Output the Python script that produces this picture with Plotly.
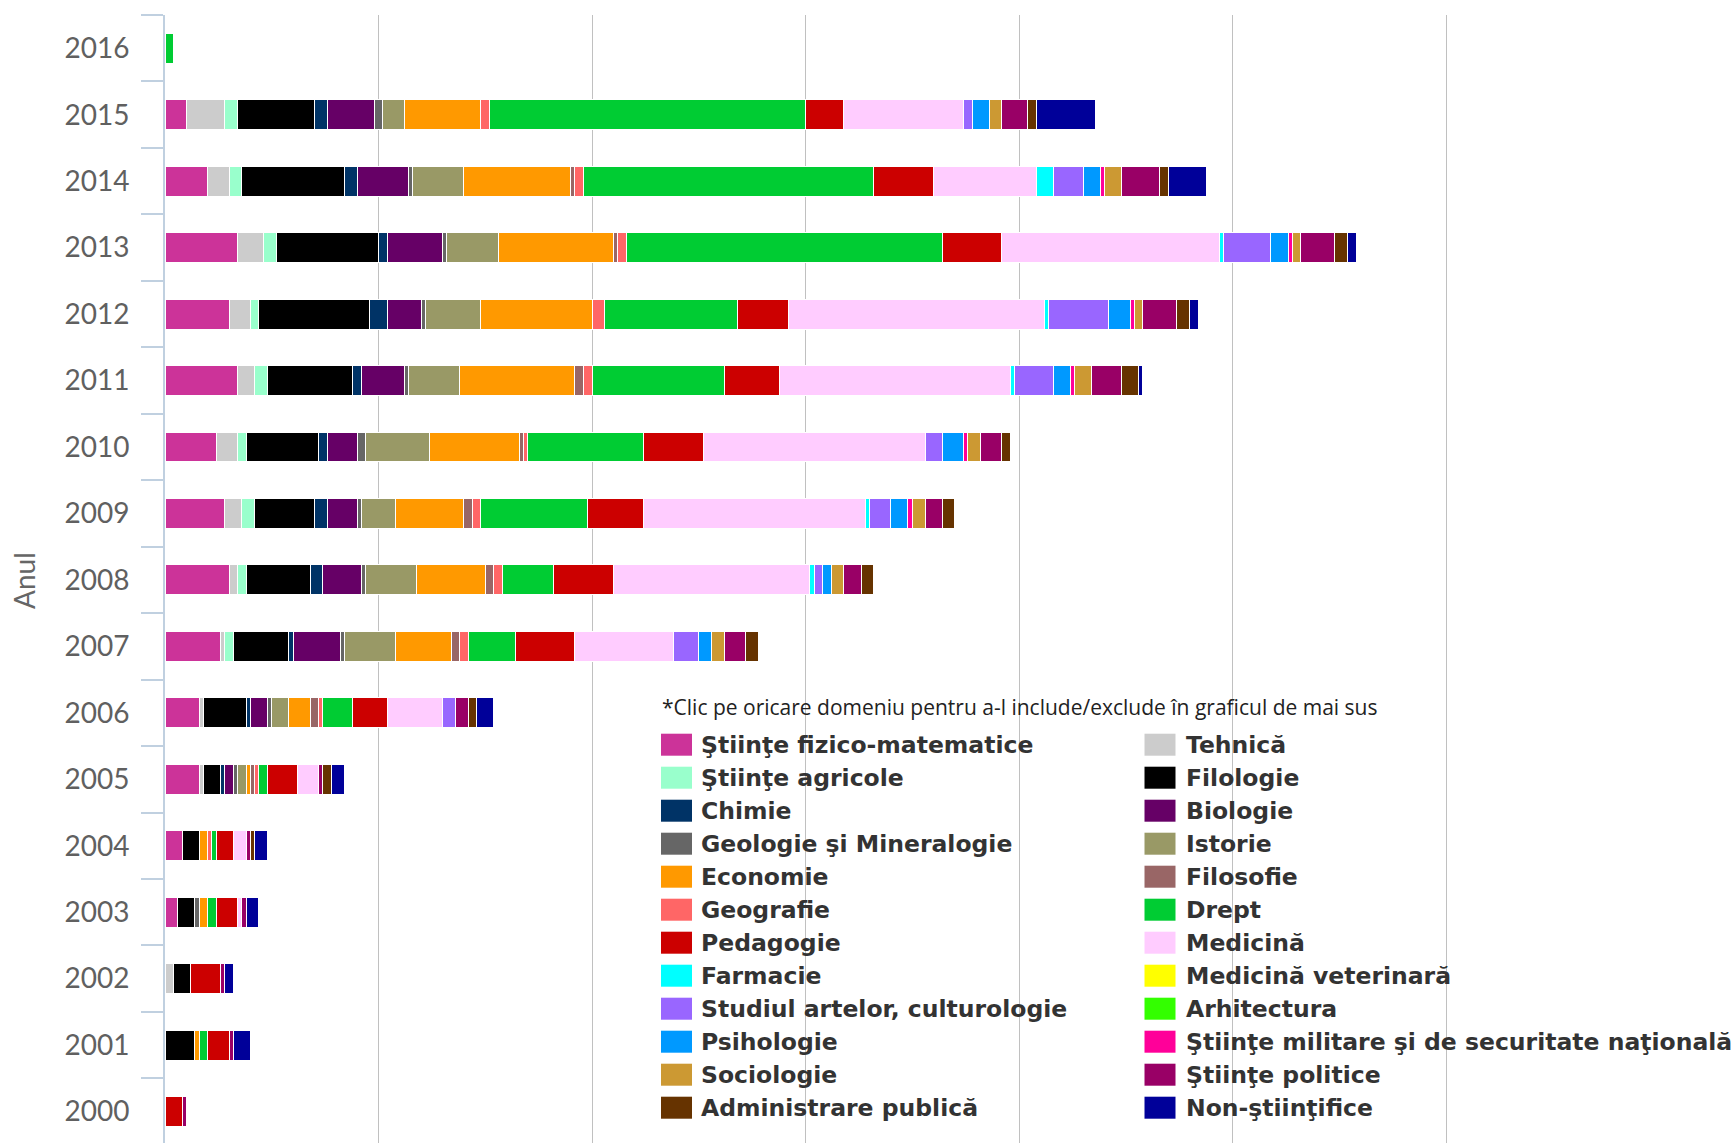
import plotly.graph_objects as go

# Years on the category axis (bottom to top)
years = [str(y) for y in range(2000, 2017)]

# Scientific domains, in stacking / legend order
domains = [
    "Ştiinţe fizico-matematice", "Tehnică",
    "Ştiinţe agricole", "Filologie",
    "Chimie", "Biologie",
    "Geologie şi Mineralogie", "Istorie",
    "Economie", "Filosofie",
    "Geografie", "Drept",
    "Pedagogie", "Medicină",
    "Farmacie", "Medicină veterinară",
    "Studiul artelor, culturologie", "Arhitectura",
    "Psihologie", "Ştiinţe militare şi de securitate naţională",
    "Sociologie", "Ştiinţe politice",
    "Administrare publică", "Non-ştiinţifice",
]

colors = [
    "#CC3399", "#CCCCCC", "#99FFCC", "#000000", "#003366", "#660066",
    "#666666", "#999966", "#FF9900", "#996666", "#FF6666", "#00CC33",
    "#CC0000", "#FFCCFF", "#00FFFF", "#FFFF00", "#9966FF", "#33FF00",
    "#0099FF", "#FF0099", "#CC9933", "#990066", "#663300", "#000099",
]

# Theses per domain for each year (same order as `domains`)
v2000 = [0, 0, 0, 0, 0, 0, 0, 0, 0, 0, 0, 0, 4, 0, 0, 0, 0, 0, 0, 0, 0, 1, 0, 0]
v2001 = [0, 0, 0, 7, 0, 0, 0, 0, 1, 0, 0, 2, 5, 0, 0, 0, 0, 0, 0, 0, 0, 1, 0, 4]
v2002 = [0, 2, 0, 4, 0, 0, 0, 0, 0, 0, 0, 0, 7, 0, 0, 0, 0, 0, 0, 0, 0, 1, 0, 2]
v2003 = [3, 0, 0, 4, 0, 0, 1, 0, 2, 0, 0, 2, 5, 1, 0, 0, 0, 0, 0, 0, 0, 1, 0, 3]
v2004 = [4, 0, 0, 4, 0, 0, 0, 0, 2, 0, 1, 1, 4, 3, 0, 0, 0, 0, 0, 0, 0, 1, 1, 3]
v2005 = [8, 1, 0, 4, 1, 2, 1, 2, 1, 1, 1, 2, 7, 5, 0, 0, 0, 0, 0, 0, 0, 1, 2, 3]
v2006 = [8, 1, 0, 10, 1, 4, 1, 4, 5, 2, 1, 7, 8, 13, 0, 0, 3, 0, 0, 0, 0, 3, 2, 4]
v2007 = [13, 1, 2, 13, 1, 11, 1, 12, 13, 2, 2, 11, 14, 23, 0, 0, 6, 0, 3, 0, 3, 5, 3, 0]
v2008 = [15, 2, 2, 15, 3, 9, 1, 12, 16, 2, 2, 12, 14, 46, 1, 0, 2, 0, 2, 0, 3, 4, 3, 0]
v2009 = [14, 4, 3, 14, 3, 7, 1, 8, 16, 2, 2, 25, 13, 52, 1, 0, 5, 0, 4, 1, 3, 4, 3, 0]
v2010 = [12, 5, 2, 17, 2, 7, 2, 15, 21, 1, 1, 27, 14, 52, 0, 0, 4, 0, 5, 1, 3, 5, 2, 0]
v2011 = [17, 4, 3, 20, 2, 10, 1, 12, 27, 2, 2, 31, 13, 54, 1, 0, 9, 0, 4, 1, 4, 7, 4, 1]
v2012 = [15, 5, 2, 26, 4, 8, 1, 13, 26, 0, 3, 31, 12, 60, 1, 0, 14, 0, 5, 1, 2, 8, 3, 2]
v2013 = [17, 6, 3, 24, 2, 13, 1, 12, 27, 1, 2, 74, 14, 51, 1, 0, 11, 0, 4, 1, 2, 8, 3, 2]
v2014 = [10, 5, 3, 24, 3, 12, 1, 12, 25, 1, 2, 68, 14, 24, 4, 0, 7, 0, 4, 1, 4, 9, 2, 9]
v2015 = [5, 9, 3, 18, 3, 11, 2, 5, 18, 0, 2, 74, 9, 28, 0, 0, 2, 0, 4, 0, 3, 6, 2, 14]
v2016 = [0, 0, 0, 0, 0, 0, 0, 0, 0, 0, 0, 2, 0, 0, 0, 0, 0, 0, 0, 0, 0, 0, 0, 0]

values_by_year = [v2000, v2001, v2002, v2003, v2004, v2005, v2006, v2007, v2008,
                  v2009, v2010, v2011, v2012, v2013, v2014, v2015, v2016]

legend_note = "*Clic pe oricare domeniu pentru a-l include/exclude în graficul de mai sus"

# ---- page geometry (pixels) ----
FIG_W, FIG_H = 1735, 1143
M_L, M_R, M_T, M_B = 165, 135, 15, 0
PLOT_W = FIG_W - M_L - M_R
PLOT_H = FIG_H - M_T - M_B
PX_PER_UNIT = 213.5 / 50          # one grid step (50) is 213.5 px wide
ROW_PX = 66.46                    # height of one year band
X_MAX = PLOT_W / PX_PER_UNIT
Y_TOP = len(years) - 0.5
Y_BOTTOM = Y_TOP - PLOT_H / ROW_PX


def px_x(px):
    return (px - M_L) / PLOT_W


def px_y(py):
    return 1 - (py - M_T) / PLOT_H


fig = go.Figure()

for i, (name, col) in enumerate(zip(domains, colors)):
    xs = [vals[i] if vals[i] else None for vals in values_by_year]
    fig.add_trace(go.Bar(
        x=xs, y=years, name=name, orientation="h",
        marker=dict(color=col, line=dict(color="white", width=1)),
        width=0.45, showlegend=False,
        hovertemplate="%{y}: %{x}<extra>" + name + "</extra>",
    ))

shapes = []
annotations = []

# white box holding the domain key
shapes.append(dict(
    type="rect", xref="paper", yref="paper", layer="between",
    x0=px_x(650), x1=px_x(FIG_W + 5), y0=px_y(1136), y1=px_y(677),
    fillcolor="white", line=dict(width=0),
))

annotations.append(dict(
    text=legend_note, xref="paper", yref="paper",
    x=px_x(660), y=px_y(707), xanchor="left", yanchor="middle",
    showarrow=False, font=dict(family="Open Sans", size=21, color="#222222"),
))

ROW0, ROW_STEP = 744.7, 33.0
COL_SWATCH = [661, 1144.5]
COL_TEXT = [698.5, 1184]
for i, (name, col) in enumerate(zip(domains, colors)):
    c, r = i % 2, i // 2
    cy = ROW0 + r * ROW_STEP
    shapes.append(dict(
        type="rect", xref="paper", yref="paper", layer="above",
        x0=px_x(COL_SWATCH[c]), x1=px_x(COL_SWATCH[c] + 31),
        y0=px_y(cy + 11), y1=px_y(cy - 11),
        fillcolor=col, line=dict(width=0),
    ))
    annotations.append(dict(
        text=name, xref="paper", yref="paper",
        x=px_x(COL_TEXT[c]), y=px_y(cy), xanchor="left", yanchor="middle",
        showarrow=False,
        font=dict(family="DejaVu Sans", size=23.5, color="#333333", weight="bold"),
    ))

# y-axis title
annotations.append(dict(
    text="Anul", xref="paper", yref="paper",
    x=px_x(24), y=px_y(581), xanchor="center", yanchor="middle",
    textangle=-90, showarrow=False,
    font=dict(family="Lato", size=28, color="#666666"),
))

fig.update_layout(
    width=FIG_W, height=FIG_H, autosize=False,
    margin=dict(l=M_L, r=M_R, t=M_T, b=M_B, pad=0),
    paper_bgcolor="white", plot_bgcolor="white",
    barmode="stack", bargap=0.55,
    shapes=shapes, annotations=annotations,
    xaxis=dict(
        range=[0, X_MAX], dtick=50, tick0=0,
        showgrid=True, gridcolor="#C0C0C0", gridwidth=1,
        zeroline=False, showline=False, showticklabels=False,
        ticks="", automargin=False, fixedrange=True,
    ),
    yaxis=dict(
        type="category", categoryorder="array", categoryarray=years,
        range=[Y_BOTTOM, Y_TOP],
        showgrid=False, zeroline=False,
        showline=True, linecolor="#C0D0E0", linewidth=2,
        ticks="outside", tickson="boundaries", ticklen=22,
        tickcolor="#C0D0E0", tickwidth=2,
        ticklabelstandoff=28,
        tickfont=dict(family="Lato", size=28, color="#606060"),
        automargin=False, fixedrange=True,
    ),
)

fig.write_html("out.html", config={"displayModeBar": False})
